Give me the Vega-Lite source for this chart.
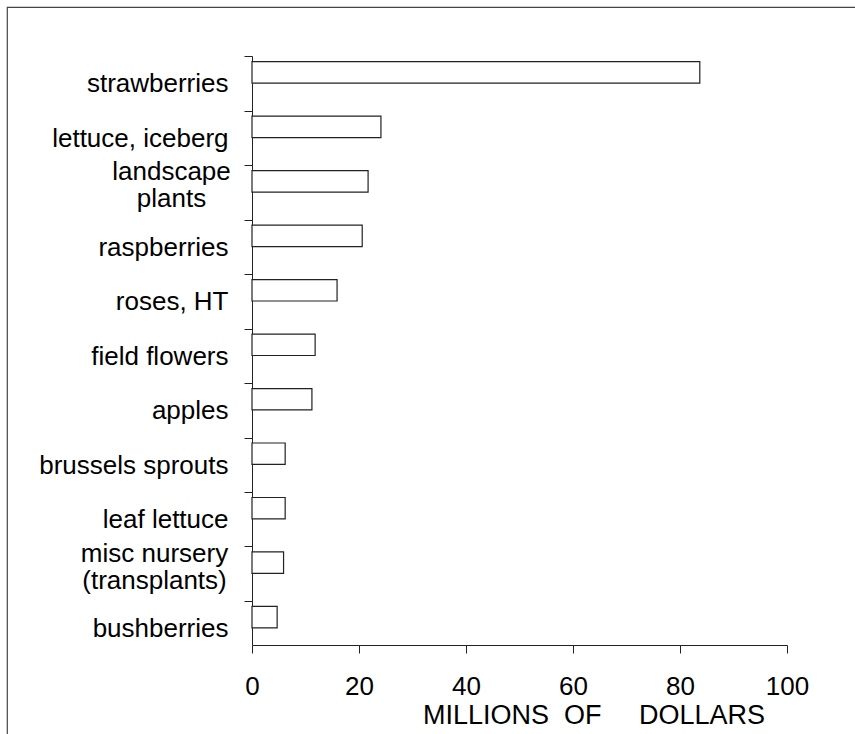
{
  "$schema": "https://vega.github.io/schema/vega-lite/v6.json",
  "width": 853,
  "height": 740,
  "autosize": {"type": "none"},
  "padding": {"left": 7, "top": 7, "right": 0, "bottom": 0},
  "background": "white",
  "config": {"view": {"stroke": "#444", "strokeWidth": 1.2}, "font": "Liberation Sans"},
  "data": {"values": [
    {"crop": "strawberries", "value": 83.7},
    {"crop": "lettuce, iceberg", "value": 24.1},
    {"crop": "landscape plants", "value": 21.7},
    {"crop": "raspberries", "value": 20.6},
    {"crop": "roses, HT", "value": 15.9},
    {"crop": "field flowers", "value": 11.8},
    {"crop": "apples", "value": 11.2},
    {"crop": "brussels sprouts", "value": 6.2},
    {"crop": "leaf lettuce", "value": 6.2},
    {"crop": "misc nursery (transplants)", "value": 5.9},
    {"crop": "bushberries", "value": 4.7}
  ]},
  "mark": {"type": "bar", "fill": "white", "stroke": "#222", "strokeWidth": 1.2},
  "encoding": {
    "y": {
      "field": "crop", "type": "nominal", "sort": null,
      "scale": {"range": [49, 638], "paddingInner": 0.607, "paddingOuter": 0.21, "align": 0.25},
      "axis": {
        "title": null, "offset": -245, "domainColor": "#222", "tickColor": "#222",
        "tickSize": 8, "bandPosition": 0, "tickOffset": -5.5,
        "labelOffset": {"condition": {"test": "datum.value == 'landscape plants' || datum.value == 'misc nursery (transplants)'", "value": -4}, "value": 17},
        "labelAlign": {"condition": {"test": "datum.value == 'landscape plants' || datum.value == 'misc nursery (transplants)'", "value": "center"}, "value": "right"},
        "labelPadding": {"condition": [{"test": "datum.value == 'landscape plants'", "value": 73}, {"test": "datum.value == 'misc nursery (transplants)'", "value": 90}], "value": 16},
        "labelFont": "Liberation Sans", "labelFontSize": 26, "labelColor": "black",
        "labelLimit": 400, "labelLineHeight": 27,
        "labelOverlap": false, "labelBound": false,
        "labelExpr": "datum.value == 'landscape plants' ? ['landscape', 'plants'] : datum.value == 'misc nursery (transplants)' ? ['misc nursery', '(transplants)'] : datum.label"
      }
    },
    "x": {
      "field": "value", "type": "quantitative",
      "scale": {"domain": [0, 100], "range": [245, 780], "nice": false, "zero": true},
      "axis": {
        "title": "MILLIONS\u00a0\u00a0OF\u00a0\u00a0\u00a0\u00a0\u00a0DOLLARS",
        "offset": -102, "values": [0, 20, 40, 60, 80, 100], "grid": false,
        "tickSize": 8, "domainColor": "#222", "tickColor": "#222",
        "labelFont": "Liberation Sans", "labelFontSize": 26, "labelPadding": 20, "labelColor": "black",
        "labelFlush": false, "labelOverlap": false,
        "titleFont": "Liberation Sans", "titleFontSize": 27, "titleFontWeight": "normal", "titleColor": "black",
        "titleX": 586.5, "titleY": 70, "titleAlign": "center", "titleBaseline": "middle"
      }
    }
  }
}
